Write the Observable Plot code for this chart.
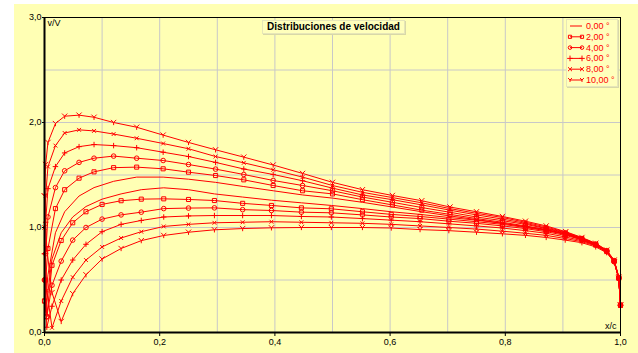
<!DOCTYPE html>
<html><head><meta charset="utf-8">
<script src="https://cdn.jsdelivr.net/npm/d3@7"></script>
<script src="https://cdn.jsdelivr.net/npm/@observablehq/plot@0.6"></script>
<style>
body{margin:0;background:#fff;width:638px;height:353px;overflow:hidden;position:relative;font-family:"Liberation Sans",Arial,sans-serif;}
#bg{position:absolute;left:14px;top:4px;right:0;bottom:0;background:#ffffb4;}
#chart{position:absolute;left:0;top:0;}
#title{position:absolute;left:262px;top:20px;width:141px;height:12px;border:1px solid #e6e6b8;box-shadow:1px 1px 0 #d8d8a8;background:#ffffbc;font-size:10px;font-weight:bold;line-height:12px;text-align:center;color:#000;white-space:nowrap;}
#legend{position:absolute;left:566px;top:19px;width:50px;height:66px;border:1px solid #e6e6b8;box-shadow:1px 1px 0 #d8d8a8;background:#ffffbc;}
</style></head><body>
<div id="bg"></div><div id="chart"></div>
<div id="title">Distribuciones de velocidad</div>
<div id="legend"></div>
<script>
// chordwise stations (x/c)
const xUpper = [0, 0.002, 0.006, 0.019, 0.035, 0.06, 0.086, 0.12, 0.16, 0.206, 0.25, 0.297, 0.346, 0.397, 0.448, 0.5, 0.552, 0.604, 0.655, 0.704, 0.75, 0.795, 0.835, 0.871, 0.905, 0.933, 0.957, 0.976, 0.989, 0.997, 1.0];
const xLower = [0, 0.004, 0.013, 0.029, 0.049, 0.072, 0.1, 0.133, 0.168, 0.207, 0.25, 0.295, 0.344, 0.394, 0.446, 0.498, 0.552, 0.602, 0.652, 0.702, 0.75, 0.795, 0.835, 0.871, 0.904, 0.933, 0.957, 0.976, 0.989, 0.997, 1.0];

const angleLabels = ["0,00 °", "2,00 °", "4,00 °", "6,00 °", "8,00 °", "10,00 °"];
const markerKinds = ["none", "square", "circle", "plus", "times", "wye"];

// upper surface v/V
const upper0  = [0.15, 0.30, 0.55, 0.95, 1.15, 1.30, 1.38, 1.44, 1.48, 1.48, 1.46, 1.43, 1.39, 1.35, 1.31, 1.28, 1.24, 1.195, 1.15, 1.11, 1.075, 1.04, 1.005, 0.975, 0.935, 0.88, 0.83, 0.77, 0.675, 0.515, 0.26];
const upper2  = [0.30, 0.50, 0.80, 1.18, 1.36, 1.47, 1.53, 1.57, 1.575, 1.559, 1.527, 1.495, 1.454, 1.40, 1.35, 1.32, 1.265, 1.215, 1.165, 1.125, 1.085, 1.05, 1.015, 0.98, 0.94, 0.885, 0.835, 0.775, 0.68, 0.52, 0.26];
const upper4  = [0.50, 0.75, 1.10, 1.38, 1.54, 1.62, 1.66, 1.68, 1.66, 1.638, 1.60, 1.556, 1.505, 1.448, 1.40, 1.35, 1.29, 1.24, 1.19, 1.145, 1.10, 1.065, 1.03, 0.99, 0.945, 0.89, 0.84, 0.775, 0.68, 0.52, 0.26];
const upper6  = [0.75, 1.05, 1.37, 1.58, 1.71, 1.77, 1.79, 1.78, 1.76, 1.717, 1.676, 1.62, 1.557, 1.505, 1.445, 1.375, 1.31, 1.265, 1.215, 1.165, 1.12, 1.08, 1.04, 0.995, 0.95, 0.895, 0.84, 0.78, 0.685, 0.525, 0.26];
const upper8  = [1.00, 1.30, 1.58, 1.78, 1.90, 1.93, 1.92, 1.89, 1.85, 1.80, 1.75, 1.676, 1.616, 1.55, 1.48, 1.40, 1.335, 1.285, 1.235, 1.18, 1.135, 1.095, 1.05, 1.005, 0.955, 0.90, 0.845, 0.78, 0.685, 0.525, 0.26];
const upper10 = [1.30, 1.60, 1.81, 1.99, 2.06, 2.07, 2.05, 2.00, 1.955, 1.88, 1.81, 1.74, 1.67, 1.595, 1.515, 1.43, 1.36, 1.305, 1.255, 1.195, 1.15, 1.105, 1.06, 1.015, 0.96, 0.905, 0.85, 0.785, 0.69, 0.53, 0.26];

// lower surface v/V
const lower0  = [0.15, 0.30, 0.70, 0.95, 1.10, 1.20, 1.27, 1.32, 1.36, 1.378, 1.36, 1.32, 1.29, 1.26, 1.235, 1.21, 1.18, 1.15, 1.125, 1.095, 1.07, 1.04, 1.01, 0.98, 0.94, 0.90, 0.845, 0.78, 0.68, 0.52, 0.26];
const lower2  = [0.30, 0.15, 0.64, 0.876, 1.045, 1.15, 1.22, 1.255, 1.27, 1.273, 1.267, 1.257, 1.23, 1.21, 1.187, 1.178, 1.15, 1.125, 1.105, 1.08, 1.055, 1.03, 1.0, 0.97, 0.935, 0.895, 0.84, 0.775, 0.68, 0.52, 0.26];
const lower4  = [0.50, 0.15, 0.45, 0.68, 0.88, 1.00, 1.08, 1.12, 1.146, 1.18, 1.185, 1.187, 1.17, 1.162, 1.146, 1.14, 1.12, 1.10, 1.085, 1.06, 1.04, 1.015, 0.99, 0.96, 0.925, 0.885, 0.835, 0.77, 0.675, 0.515, 0.26];
const lower6  = [0.75, 0.05, 0.25, 0.50, 0.69, 0.84, 0.96, 1.03, 1.067, 1.10, 1.11, 1.114, 1.114, 1.114, 1.105, 1.10, 1.085, 1.07, 1.055, 1.035, 1.015, 0.995, 0.97, 0.945, 0.91, 0.875, 0.83, 0.77, 0.675, 0.515, 0.26];
const lower8  = [1.00, 0.40, 0.045, 0.30, 0.527, 0.69, 0.815, 0.90, 0.96, 1.01, 1.03, 1.045, 1.05, 1.055, 1.05, 1.045, 1.04, 1.03, 1.015, 1.0, 0.985, 0.965, 0.945, 0.925, 0.895, 0.865, 0.825, 0.765, 0.672, 0.515, 0.26];
const lower10 = [1.30, 0.80, 0.38, 0.105, 0.37, 0.55, 0.70, 0.80, 0.875, 0.924, 0.955, 0.978, 0.99, 0.997, 1.0, 1.0, 1.0, 0.995, 0.98, 0.97, 0.955, 0.94, 0.925, 0.905, 0.88, 0.855, 0.815, 0.76, 0.67, 0.515, 0.26];

const xTicks = [0, 0.2, 0.4, 0.6, 0.8, 1.0];
const yTicks = [0, 1, 2, 3];
const xGrid = [0.1, 0.2, 0.3, 0.4, 0.5, 0.6, 0.7, 0.8, 0.9];
const yGrid = [0.5, 1, 1.5, 2, 2.5];

const uppers = [upper0, upper2, upper4, upper6, upper8, upper10];
const lowers = [lower0, lower2, lower4, lower6, lower8, lower10];

const RED = "#ff0000";
const fmt = d => d.toFixed(1).replace(".", ",");

// custom stroked "Y" marker
const wye = {
  draw(ctx, size) {
    const r = Math.sqrt(size / Math.PI) * 1.1;
    ctx.moveTo(0, 0); ctx.lineTo(0, r);
    ctx.moveTo(0, 0); ctx.lineTo(-r, -r);
    ctx.moveTo(0, 0); ctx.lineTo(r, -r);
  }
};
const symbolFor = k => k === "wye" ? wye : k;
const radiusFor = k => (k === "plus" || k === "times") ? 1.9 : (k === "wye" ? 2.4 : 2.3);

const rows = [];
angleLabels.forEach((lab, si) => {
  xUpper.forEach((x, i) => rows.push({x, v: uppers[si][i], key: si + "u", s: si}));
  xLower.forEach((x, i) => rows.push({x, v: lowers[si][i], key: si + "l", s: si}));
});

const marks = [
  Plot.gridX(xGrid, {stroke: "#c8c8c8", strokeOpacity: 1}),
  Plot.gridY(yGrid, {stroke: "#c8c8c8", strokeOpacity: 1}),
  Plot.line(rows, {x: "x", y: "v", z: "key", stroke: RED, strokeWidth: 1}),
];
markerKinds.forEach((k, si) => {
  if (k === "none") return;
  marks.push(Plot.dot(rows.filter(d => d.s === si), {
    x: "x", y: "v", symbol: symbolFor(k), r: radiusFor(k),
    fill: "none", stroke: RED, strokeWidth: 1
  }));
});
marks.push(
  Plot.ruleY([3], {stroke: "#000", strokeWidth: 1}),
  Plot.ruleX([1], {stroke: "#000", strokeWidth: 1}),
  Plot.ruleX([0], {stroke: "#000", strokeWidth: 2}),
  Plot.ruleY([0], {stroke: "#000", strokeWidth: 2}),
  Plot.axisX(xTicks, {tickSize: 4, tickFormat: fmt, tickPadding: 2, fontSize: 9, label: null}),
  Plot.axisY(yTicks, {tickSize: 2, tickFormat: fmt, tickPadding: 1, fontSize: 9, label: null}),
  Plot.text(["v/V"], {frameAnchor: "top-left", dx: 3, dy: 2, fontSize: 9, textAnchor: "start", lineAnchor: "top"}),
  Plot.text(["x/c"], {frameAnchor: "bottom-right", dx: -4, dy: -4, fontSize: 9, textAnchor: "end", lineAnchor: "bottom"})
);

const chart = Plot.plot({
  width: 638, height: 353,
  marginLeft: 44, marginRight: 18, marginTop: 17, marginBottom: 21,
  x: {domain: [0, 1], label: null},
  y: {domain: [0, 3], label: null},
  style: {background: "transparent", fontFamily: "Liberation Sans, Arial, sans-serif", fontSize: "9px", color: "#000", overflow: "visible"},
  marks
});
document.getElementById("chart").appendChild(chart);

// legend (HTML/SVG overlay)
const lg = d3.select("#legend").append("svg").attr("width", 50).attr("height", 66).style("display", "block");
angleLabels.forEach((lab, i) => {
  const y = 6 + i * 10.8;
  const g = lg.append("g");
  g.append("line").attr("x1", 3).attr("x2", 15).attr("y1", y).attr("y2", y).attr("stroke", RED);
  const k = markerKinds[i];
  if (k !== "none") {
    const sym = k === "wye" ? wye : {square: d3.symbolSquare, circle: d3.symbolCircle, plus: d3.symbolPlus, times: d3.symbolTimes}[k];
    const size = k === "plus" || k === "times" ? 12 : 10;
    [3, 15].forEach(cx => g.append("path").attr("d", d3.symbol(sym, size)()).attr("transform", `translate(${cx},${y})`).attr("fill", "none").attr("stroke", RED));
  }
  g.append("text").attr("x", 19).attr("y", y + 3).attr("fill", RED).attr("font-size", 9).text(lab);
});
</script>
</body></html>
